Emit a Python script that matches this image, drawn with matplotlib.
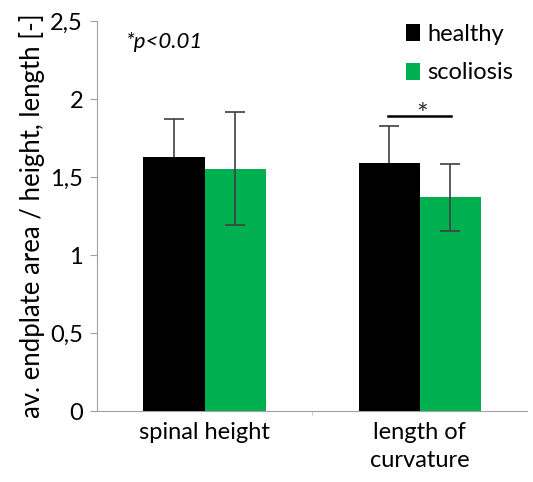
import matplotlib
matplotlib.use("Agg")
import matplotlib.pyplot as plt
import numpy as np

categories = ["spinal height", "length of\ncurvature"]
healthy_mean = [1.63, 1.59]
healthy_sd = [0.24, 0.24]
scoliosis_mean = [1.555, 1.37]
scoliosis_sd = [0.36, 0.215]
y_ticks = [0, 0.5, 1, 1.5, 2, 2.5]
y_tick_labels = ["0", "0,5", "1", "1,5", "2", "2,5"]

plt.rcParams["font.family"] = ["Lato", "DejaVu Sans"]

fig = plt.figure(figsize=(5.33, 4.82), dpi=100)
ax = fig.add_axes([0.182, 0.147, 0.807, 0.809])

x = np.arange(len(categories))
w = 0.284
ecol = "#404040"
# healthy error bars sit behind their bars, like in the original
ax.errorbar(x - w / 2, healthy_mean, yerr=healthy_sd, fmt="none", ecolor=ecol,
            elinewidth=1.2, capsize=7, capthick=1.2, zorder=1)
ax.bar(x - w / 2, healthy_mean, w, color="black", label="healthy", zorder=2)
ax.bar(x + w / 2, scoliosis_mean, w, color="#00B050", label="scoliosis", zorder=2)
ax.errorbar(x + w / 2, scoliosis_mean, yerr=scoliosis_sd, fmt="none", ecolor=ecol,
            elinewidth=1.2, capsize=7, capthick=1.2, zorder=3)

ax.set_xlim(-0.5, 1.5)
ax.set_ylim(0, 2.5)
ax.set_yticks(y_ticks)
ax.set_yticklabels(y_tick_labels, fontsize=17)
ax.set_xticks(x)
ax.set_xticklabels(categories, fontsize=17, linespacing=1.4)
ax.tick_params(axis="x", length=0, pad=8)
ax.tick_params(axis="y", length=5, color="#a0a0a0", pad=5)
ax.set_xticks([0.5], minor=True)
ax.tick_params(axis="x", which="minor", length=3, color="#c0c0c0")

for side in ["top", "right"]:
    ax.spines[side].set_visible(False)
ax.spines["left"].set_color("#a0a0a0")
ax.spines["bottom"].set_color("#a0a0a0")

ax.set_ylabel("av. endplate area / height, length [-]", fontsize=18.5, labelpad=4)

# significance marker
ax.plot([1 - 0.147, 1 + 0.147], [1.89, 1.89], color="black", lw=1.8)
ax.text(1.01, 1.81, "*", ha="center", va="bottom", fontsize=20, color="#303030")
ax.text(0.065, 0.946, "*p<0.01", transform=ax.transAxes, fontsize=16,
        style="italic", ha="left", va="center")

ax.legend(loc="upper right", bbox_to_anchor=(1.0, 1.03), frameon=False,
          fontsize=17, handlelength=0.6, handleheight=0.75, handletextpad=0.3,
          labelspacing=0.75, borderaxespad=0.2)

fig.savefig("out.png", dpi=100)
